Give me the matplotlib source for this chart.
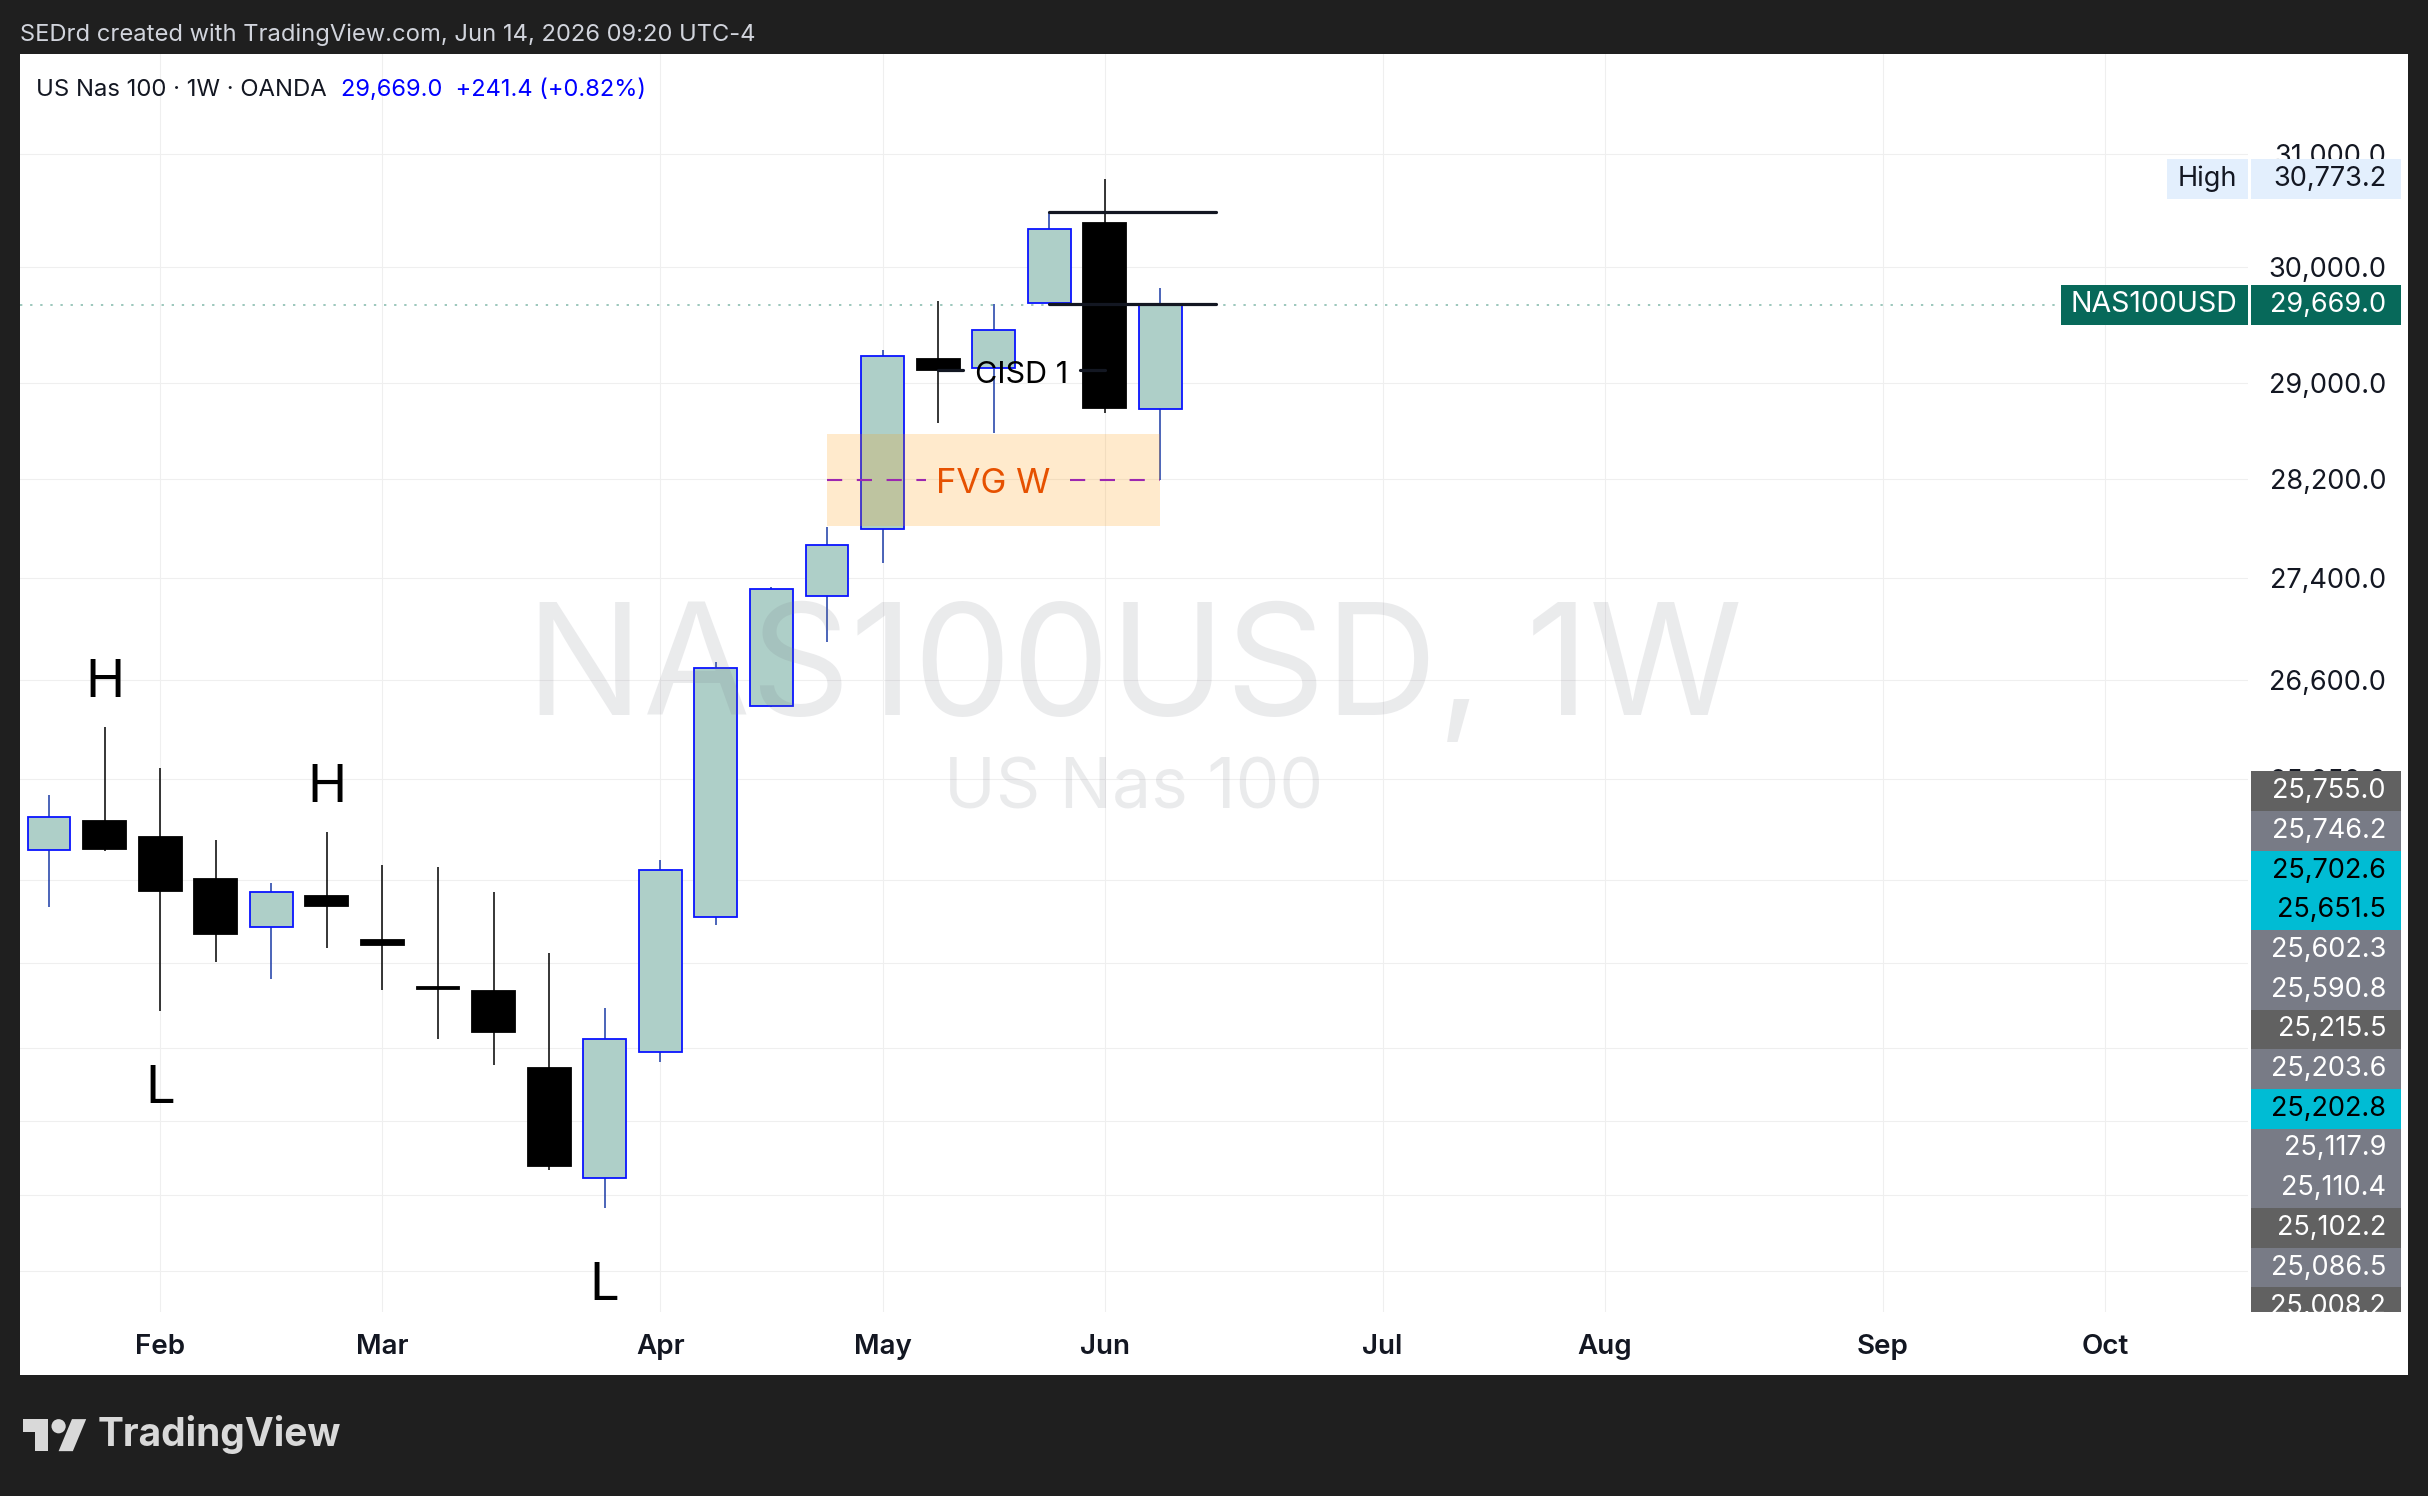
import matplotlib
matplotlib.use('Agg')
import matplotlib.pyplot as plt
import matplotlib.dates as mdates
import matplotlib.transforms as mtransforms
from matplotlib.patches import Rectangle, Polygon, Ellipse
from matplotlib.ticker import NullLocator
import numpy as np
import pandas as pd

plt.rcParams['font.family'] = ['Inter', 'DejaVu Sans']

W, H = 2428, 1496

# weekly candles, OANDA US Nas 100
weeks = ['2026-01-19', '2026-01-26', '2026-02-02', '2026-02-09', '2026-02-16', '2026-02-23',
         '2026-03-02', '2026-03-09', '2026-03-16', '2026-03-23', '2026-03-30', '2026-04-06',
         '2026-04-13', '2026-04-20', '2026-04-27', '2026-05-04', '2026-05-11', '2026-05-18',
         '2026-05-25', '2026-06-01', '2026-06-08']
opens = [25318, 25536, 25417, 25108, 24756, 24985, 24663, 24326, 24300, 23761, 23013, 23872,
         24826, 26400, 27261, 27796, 29203, 29126, 29682, 30381, 28783]
highs = [25726, 26239, 25927, 25390, 25073, 25450, 25206, 25193, 25010, 24570, 24184, 25242,
         26739, 27333, 27809, 29282, 29702, 29674, 30484, 30773.2, 29817]
lows = [24904, 25311, 24161, 24509, 24382, 24608, 24310, 23964, 23785, 23070, 22812, 23804,
        24771, 26397, 26898, 27520, 28664, 28586, 29676, 28748, 28195]
closes = [25559, 25327, 25017, 24710, 25014, 24910, 24630, 24318, 24014, 23091, 23966, 25170,
          26695, 27312, 27667, 29233, 29109, 29453, 30331, 28789, 29669.0]

month_ticks = ['2026-02-02', '2026-03-02', '2026-04-06', '2026-05-04', '2026-06-01',
               '2026-07-06', '2026-08-03', '2026-09-07', '2026-10-05']
month_names = ['Feb', 'Mar', 'Apr', 'May', 'Jun', 'Jul', 'Aug', 'Sep', 'Oct']
price_ticks = [31000, 30000, 29000, 28200, 27400, 26600, 25850, 25100, 24500, 23900,
               23400, 22900, 22400]

last_price = 29669.0
change = 241.4
change_pct = 0.82
period_high = 30773.2

# labels stacked on the price scale
stack_values = [25755.0, 25746.2, 25702.6, 25651.5, 25602.3, 25590.8, 25215.5, 25203.6,
                25202.8, 25117.9, 25110.4, 25102.2, 25086.5, 25008.2]
stack_kinds = ['dark', 'slate', 'cyan', 'cyan', 'slate', 'slate', 'dark', 'slate', 'cyan',
               'slate', 'slate', 'dark', 'slate', 'dark']

# markup
swing_weeks = ['2026-01-26', '2026-02-02', '2026-02-23', '2026-03-30']
swing_marks = ['H', 'L', 'H', 'L']
fvg_start, fvg_end = '2026-04-27', '2026-06-08'
fvg_top, fvg_bottom = 28572, 27822
cisd_start, cisd_end = '2026-05-11', '2026-06-01'
cisd_level = 29112
level_start, level_end = '2026-05-25', '2026-06-15'
levels = [30484, 29676]

kind_colors = {'dark': ('#616161', 'white'), 'slate': ('#787b86', 'white'),
               'cyan': ('#00bcd4', 'black')}
ink = '#131722'
body_up = '#aecfc8'
border_up = '#0a14ff'
wick_up = '#1a3aa6'
scale_fs = 19.5


def d2n(s):
    return mdates.date2num(pd.Timestamp(s))


def px(x, y_top):
    # pixel (from top-left) -> figure fraction
    return x / W, 1 - y_top / H


fig = plt.figure(figsize=(W / 100, H / 100), dpi=100, facecolor='#1f1f1f')
fig.patches.append(Rectangle(px(20, 1375), (2408 - 20) / W, (1375 - 54) / H,
                             transform=fig.transFigure, facecolor='white', zorder=-1))

ax = fig.add_axes([20 / W, 1 - 1312 / H, (2248 - 20) / W, (1312 - 54) / H])
ax.set_facecolor('none')
for s in ax.spines.values():
    s.set_visible(False)
ax.set_yscale('log')
ax.set_ylim(22134, 31915)
ax.set_xlim(d2n('2026-01-19') - 3.65, d2n('2026-06-01') + 144)
ax.yaxis.set_minor_locator(NullLocator())

x = np.array([d2n(w) for w in weeks])
o, h, l, c = map(np.array, (opens, highs, lows, closes))
up = c >= o

ax.vlines(x[up], l[up], h[up], color=wick_up, lw=1.1, zorder=2)
ax.vlines(x[~up], l[~up], h[~up], color='black', lw=1.1, zorder=2)
ax.bar(x[up], c[up] - o[up], bottom=o[up], width=5.4, color=body_up,
       edgecolor=border_up, lw=1.3, zorder=3)
ax.bar(x[~up], o[~up] - c[~up], bottom=c[~up], width=5.4, color='black',
       edgecolor='black', lw=1.3, zorder=3)

# grid / ticks
ax.set_yticks(price_ticks)
ax.set_yticklabels([f'{v:,.1f}' for v in price_ticks])
ax.yaxis.tick_right()
ax.tick_params(axis='y', length=0, pad=99.4, labelsize=scale_fs, labelcolor=ink)
for lab in ax.yaxis.get_majorticklabels():
    lab.set_horizontalalignment('right')
ax.set_xticks([d2n(m) for m in month_ticks])
ax.set_xticklabels(month_names)
ax.tick_params(axis='x', length=0, pad=16, labelsize=20, labelcolor=ink)
for lab in ax.xaxis.get_majorticklabels():
    lab.set_fontweight('semibold')
ax.grid(True, color='#efefef', lw=0.8)
ax.set_axisbelow(True)

# watermark
ax.text(0.5, 0.5064, 'NAS100USD, 1W', transform=ax.transAxes, ha='center', va='center',
        fontsize=112, color='#787b86', alpha=0.15, zorder=5)
ax.text(0.5, 0.4149, 'US Nas 100', transform=ax.transAxes, ha='center', va='center',
        fontsize=50, color='#787b86', alpha=0.15, zorder=5)

# current price line
ax.axhline(last_price, color='#9cc7bc', lw=1.4, ls=(0, (1.2, 4)), zorder=1)

# FVG box
fx0, fx1 = d2n(fvg_start), d2n(fvg_end)
ax.fill_between([fx0, fx1], fvg_bottom, fvg_top, color='#ff9800', alpha=0.2, lw=0, zorder=4)
fmid = (fvg_top + fvg_bottom) / 2
fcx = (fx0 + fx1) / 2
for a, b in [(fx0, fcx - 8.5), (fcx + 9.6, fx1)]:
    ax.plot([a, b], [fmid, fmid], color='#9c27b0', lw=1.5, dashes=(7.3, 7.0), zorder=4)
ax.annotate('FVG W', (fcx, fmid), xytext=(0, -3.3), textcoords='offset points',
            ha='center', va='center', fontsize=25, color='#e65100', zorder=6)

# CISD
cx0, cx1 = d2n(cisd_start), d2n(cisd_end)
ccx = (cx0 + cx1) / 2
for a, b in [(cx0, ccx - 7.4), (ccx + 7.4, cx1)]:
    ax.plot([a, b], [cisd_level, cisd_level], color=ink, lw=2.3, solid_capstyle='round', zorder=6)
ax.annotate('CISD 1', (ccx, cisd_level), xytext=(0, -3.3), textcoords='offset points',
            ha='center', va='center', fontsize=22, color='black', zorder=6)

# horizontal levels
for lv in levels:
    ax.plot([d2n(level_start), d2n(level_end)], [lv, lv], color=ink, lw=2.3,
            solid_capstyle='round', zorder=6)

# swing labels
for wk, mk in zip(swing_weeks, swing_marks):
    i = weeks.index(wk)
    if mk == 'H':
        ax.annotate(mk, (x[i], highs[i]), xytext=(0, 31.5), textcoords='offset points',
                    ha='center', va='center', fontsize=38, color='black', zorder=6)
    else:
        ax.annotate(mk, (x[i], lows[i]), xytext=(0, -56.5), textcoords='offset points',
                    ha='center', va='center', fontsize=38, color='black', zorder=6)

# price scale labels
inv = fig.transFigure.inverted()


def fig_y(price):
    return inv.transform(ax.transData.transform((x[0], price)))[1]


clip = mtransforms.TransformedBbox(mtransforms.Bbox([[2248 / W, 184 / H], [2410 / W, 1]]),
                                   fig.transFigure)
lab_h = 39.7 / H


def scale_box(x0, x1, yc, face, clipped=False):
    r = Rectangle((x0 / W, yc - lab_h / 2), (x1 - x0) / W, lab_h, transform=fig.transFigure,
                  facecolor=face, edgecolor='none', zorder=10)
    fig.add_artist(r)
    if clipped:
        r.set_clip_box(clip)
        r.set_clip_on(True)


def scale_text(xp, yc, s, color, ha='right', clipped=False, fs=scale_fs):
    t = fig.text(xp / W, yc, s, ha=ha, va='center', fontsize=fs, color=color, zorder=11)
    if clipped:
        t.set_clip_box(clip)
        t.set_clip_on(True)


yc = fig_y(period_high)
scale_box(2167, 2248, yc, '#e3effd')
scale_box(2251, 2401, yc, '#e3effd')
scale_text(2207, yc, 'High', ink, ha='center')
scale_text(2386, yc, f'{period_high:,.1f}', ink)

yc = fig_y(last_price)
scale_box(2061, 2248, yc, '#07695a')
scale_box(2251, 2401, yc, '#07695a')
scale_text(2154, yc, 'NAS100USD', 'white', ha='center', fs=20.5)
scale_text(2386, yc, f'{last_price:,.1f}', 'white')

prev = None
for v, k in zip(stack_values, stack_kinds):
    yc = fig_y(v)
    if prev is not None and yc > prev - lab_h:
        yc = prev - lab_h
    prev = yc
    face, tc = kind_colors[k]
    scale_box(2251, 2401, yc, face, clipped=True)
    scale_text(2386, yc, f'{v:,.1f}', tc, clipped=True)

# header texts
fig.text(*px(20, 35), 'SEDrd created with TradingView.com, Jun 14, 2026 09:20 UTC-4',
         ha='left', va='center', fontsize=17.1, color='#d1d4dc')
fig.text(*px(36, 90), 'US Nas 100 · 1W · OANDA', ha='left', va='center', fontsize=17.2, color=ink)
fig.text(*px(341, 90), f'{last_price:,.1f}  +{change:,.1f} (+{change_pct:.2f}%)',
         ha='left', va='center', fontsize=17, color='#0000ff')

# TradingView logo
s = 1.78


def logo(u, v):
    return px(23 + u * s, 1412 + v * s)


fig.patches.append(Polygon([logo(0, 4), logo(14, 4), logo(14, 22), logo(7, 22), logo(7, 11),
                            logo(0, 11)], closed=True, transform=fig.transFigure,
                           facecolor='#d9d9d9', edgecolor='none'))
fig.patches.append(Ellipse(logo(20, 8), 8 * s / W, 8 * s / H, transform=fig.transFigure,
                           facecolor='#d9d9d9', edgecolor='none'))
fig.patches.append(Polygon([logo(20, 22), logo(27.5, 4), logo(35.5, 4), logo(28, 22)],
                           closed=True, transform=fig.transFigure,
                           facecolor='#d9d9d9', edgecolor='none'))
fig.text(*px(98, 1435), 'TradingView', ha='left', va='center', fontsize=28,
         fontweight='bold', color='#d9d9d9')

fig.savefig('out.png', dpi=100, facecolor=fig.get_facecolor())
